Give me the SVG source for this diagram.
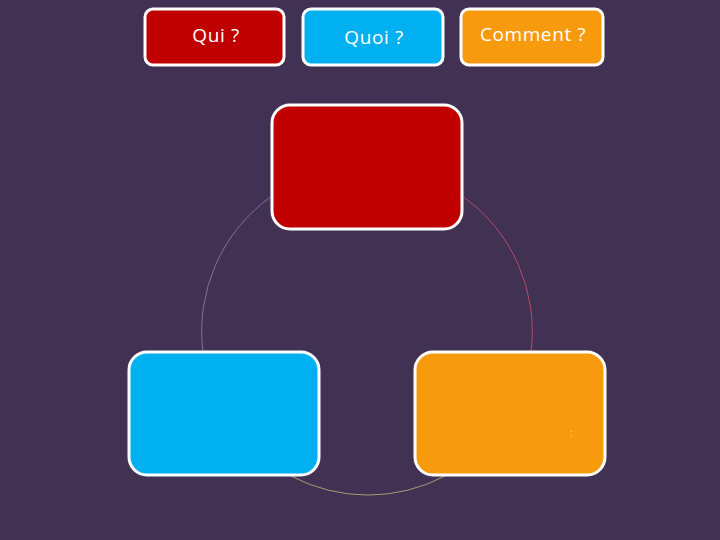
<svg xmlns="http://www.w3.org/2000/svg" width="720" height="540" viewBox="0 0 720 540">
<style>
.box{stroke:#ffffff;stroke-width:3}
.lbl{font-family:"Open Sans","Noto Sans","Liberation Sans",sans-serif;font-size:19px;letter-spacing:0.6px;fill:#ffffff;text-anchor:middle}
.arc{fill:none;stroke-width:1}
</style>
<rect width="720" height="540" fill="#413152"/>
<g id="connectors">
<path class="arc" stroke="#8c6c9c" d="M272,196 A165,165 0 0 0 203,352"/>
<path class="arc" stroke="#b84a6a" d="M462,196 A165,165 0 0 1 531,352"/>
<path class="arc" stroke="#a0a070" d="M291,476 A165,165 0 0 0 445,476"/>
</g>
<g id="qui"><rect class="box" x="145" y="9" width="139" height="56" rx="8" fill="#c00000"/><text class="lbl" x="216" y="42">Qui ?</text></g>
<g id="quoi"><rect class="box" x="303" y="9" width="140" height="56" rx="8" fill="#00b0f0"/><text class="lbl" x="374" y="44">Quoi ?</text></g>
<g id="comment"><rect class="box" x="461" y="9" width="142" height="56" rx="8" fill="#f79a0e"/><text class="lbl" x="533" y="41">Comment ?</text></g>
<g id="node-red"><rect class="box" x="272" y="105" width="190" height="124" rx="18" fill="#c00000"/></g>
<g id="node-blue"><rect class="box" x="129" y="352" width="190" height="123" rx="18" fill="#00b0f0"/></g>
<g id="node-orange"><rect class="box" x="415" y="352" width="190" height="123" rx="18" fill="#f79a0e"/><text x="571" y="436" font-family="Liberation Sans,sans-serif" font-size="9" fill="#ffe070" text-anchor="middle">:</text></g>
</svg>
